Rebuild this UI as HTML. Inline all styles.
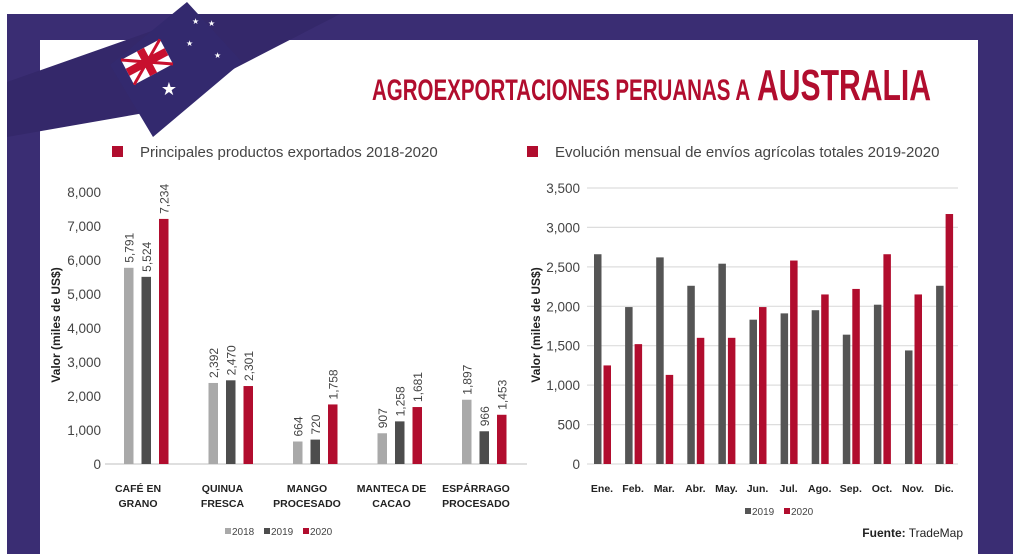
<!DOCTYPE html>
<html><head><meta charset="utf-8"><style>
html,body{margin:0;padding:0;background:#fff;}
body{width:1022px;height:559px;overflow:hidden;position:relative;font-family:"Liberation Sans",sans-serif;}
</style></head><body>
<svg width="1022" height="559" viewBox="0 0 1022 559" xmlns="http://www.w3.org/2000/svg" style="position:absolute;left:0;top:0" font-family="Liberation Sans, sans-serif">
<rect x="7" y="14" width="1006" height="540" fill="#3a2d73"/>
<rect x="40" y="40" width="938" height="514" fill="#fff"/>
<!-- ribbon -->
<polygon points="7,82 200,14 340,14 150,112 7,137" fill="#34286a"/>
<!-- flag -->
<polygon points="110,65 187,2 242,62 153,137" fill="#33296e"/>
<g transform="translate(147,62) rotate(-28)">
<rect x="-22" y="-14" width="44" height="28" fill="#fff"/>
<line x1="-22" y1="-14" x2="22" y2="14" stroke="#c8102e" stroke-width="3"/>
<line x1="-22" y1="14" x2="22" y2="-14" stroke="#c8102e" stroke-width="3"/>
<rect x="-22" y="-4" width="44" height="8" fill="#c8102e"/>
<rect x="-4" y="-14" width="8" height="28" fill="#c8102e"/>
</g>
<text x="169" y="95" font-size="18" fill="#fff" text-anchor="middle">★</text>
<text x="192" y="24" font-size="8" fill="#fff">★</text>
<text x="208" y="26" font-size="8" fill="#fff">★</text>
<text x="186" y="46" font-size="8" fill="#fff">★</text>
<text x="214" y="58" font-size="8" fill="#fff">★</text>
<!-- title -->
<text x="372" y="100" font-size="30" font-weight="bold" fill="#b10d2e" transform="translate(372,0) scale(0.62,1) translate(-372,0)" textLength="610" lengthAdjust="spacingAndGlyphs">AGROEXPORTACIONES PERUANAS A</text>
<text x="757" y="100" font-size="44" font-weight="bold" fill="#b10d2e" textLength="174" lengthAdjust="spacingAndGlyphs">AUSTRALIA</text>
<!-- subtitles -->
<rect x="112" y="146" width="11" height="11" fill="#b10d2e"/>
<text x="140" y="157" font-size="15" fill="#444">Principales productos exportados 2018-2020</text>
<rect x="527" y="146" width="11" height="11" fill="#b10d2e"/>
<text x="555" y="157" font-size="15" fill="#444">Evolución mensual de envíos agrícolas totales 2019-2020</text>

<!-- LEFT CHART -->
<g font-size="13.5" fill="#444" text-anchor="end">
<text x="101" y="469">0</text><text x="101" y="435">1,000</text><text x="101" y="401">2,000</text><text x="101" y="367">3,000</text><text x="101" y="333">4,000</text><text x="101" y="299">5,000</text><text x="101" y="265">6,000</text><text x="101" y="231">7,000</text><text x="101" y="197">8,000</text>
</g>
<line x1="105" y1="464" x2="527" y2="464" stroke="#ccc" stroke-width="1.2"/>
<text transform="translate(60,325) rotate(-90)" font-size="12" font-weight="bold" fill="#222" text-anchor="middle">Valor (miles de US$)</text>
<g id="lb"></g>
<!-- RIGHT CHART -->
<g stroke="#ddd" stroke-width="1.2">
<line x1="587" y1="464" x2="958" y2="464"/><line x1="587" y1="424.6" x2="958" y2="424.6"/><line x1="587" y1="385.1" x2="958" y2="385.1"/><line x1="587" y1="345.7" x2="958" y2="345.7"/><line x1="587" y1="306.3" x2="958" y2="306.3"/><line x1="587" y1="266.9" x2="958" y2="266.9"/><line x1="587" y1="227.4" x2="958" y2="227.4"/><line x1="587" y1="188" x2="958" y2="188"/>
</g>
<g font-size="13.5" fill="#444" text-anchor="end">
<text x="580" y="469">0</text><text x="580" y="429.6">500</text><text x="580" y="390.1">1,000</text><text x="580" y="350.7">1,500</text><text x="580" y="311.3">2,000</text><text x="580" y="271.9">2,500</text><text x="580" y="232.4">3,000</text><text x="580" y="193">3,500</text>
</g>
<text transform="translate(540,325) rotate(-90)" font-size="12" font-weight="bold" fill="#222" text-anchor="middle">Valor (miles de US$)</text>
<g id="rb"></g>
<rect x="745" y="508" width="6" height="6" fill="#555"/><text x="752" y="515" font-size="10" fill="#444">2019</text>
<rect x="784" y="508" width="6" height="6" fill="#b10d2e"/><text x="791" y="515" font-size="10" fill="#444">2020</text>
<text x="963" y="537" font-size="12" fill="#222" text-anchor="end"><tspan font-weight="bold">Fuente:</tspan> TradeMap</text>
</svg>
<script>
var NS="http://www.w3.org/2000/svg";
function el(p,t,a,txt){var e=document.createElementNS(NS,t);for(var k in a)e.setAttribute(k,a[k]);if(txt!=null)e.textContent=txt;p.appendChild(e);return e;}
var lb=document.getElementById("lb");
var d=[[5791,5524,7234],[2392,2470,2301],[664,720,1758],[907,1258,1681],[1897,966,1453]];
var cols=["#a9a9a9","#4d4d4d","#b10d2e"];
var cats=[["CAFÉ EN","GRANO"],["QUINUA","FRESCA"],["MANGO","PROCESADO"],["MANTECA DE","CACAO"],["ESPÁRRAGO","PROCESADO"]];
for(var i=0;i<5;i++){var g0=124+i*84.5;
for(var j=0;j<3;j++){var x=g0+j*17.5,h=d[i][j]*0.03388,y=464-h;
el(lb,"rect",{x:x,y:y,width:9.5,height:h,fill:cols[j]});
var tx=x+9.5,ty=y-5;
el(lb,"text",{transform:"translate("+tx+","+ty+") rotate(-90)","font-size":"12",fill:"#444"},d[i][j].toLocaleString("en-US"));}
var cx=g0+14;
el(lb,"text",{x:cx,y:492,"font-size":"10.5","font-weight":"bold",fill:"#222","text-anchor":"middle"},cats[i][0]);
el(lb,"text",{x:cx,y:507,"font-size":"10.5","font-weight":"bold",fill:"#222","text-anchor":"middle"},cats[i][1]);}
el(lb,"rect",{x:225,y:528,width:6,height:6,fill:"#a9a9a9"});el(lb,"text",{x:232,y:535,"font-size":"10",fill:"#444"},"2018");
el(lb,"rect",{x:264,y:528,width:6,height:6,fill:"#4d4d4d"});el(lb,"text",{x:271,y:535,"font-size":"10",fill:"#444"},"2019");
el(lb,"rect",{x:303,y:528,width:6,height:6,fill:"#b10d2e"});el(lb,"text",{x:310,y:535,"font-size":"10",fill:"#444"},"2020");
var rb=document.getElementById("rb");
var a=[2660,1990,2620,2260,2540,1830,1910,1950,1640,2020,1440,2260];
var b=[1250,1520,1130,1600,1600,1990,2580,2150,2220,2660,2150,3170];
var m=["Ene.","Feb.","Mar.","Abr.","May.","Jun.","Jul.","Ago.","Sep.","Oct.","Nov.","Dic."];
for(var i=0;i<12;i++){var x=594+i*31.1;
var h1=a[i]*0.07886,h2=b[i]*0.07886;
el(rb,"rect",{x:x,y:464-h1,width:7.5,height:h1,fill:"#555"});
el(rb,"rect",{x:x+9.5,y:464-h2,width:7.5,height:h2,fill:"#b10d2e"});
el(rb,"text",{x:x+8,y:492,"font-size":"10.5","font-weight":"bold",fill:"#222","text-anchor":"middle"},m[i]);}
</script>
</body></html>
